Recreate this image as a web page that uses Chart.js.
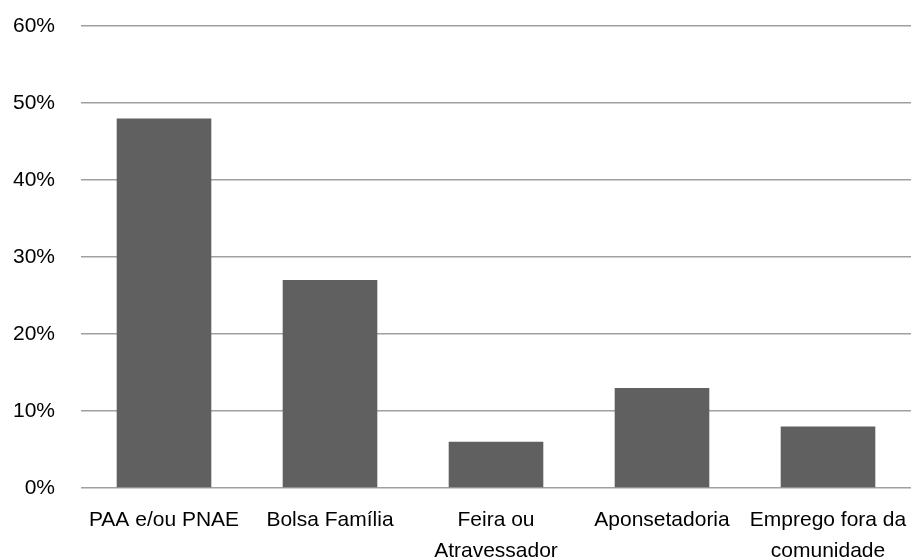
<!DOCTYPE html>
<html>
<head>
<meta charset="utf-8">
<script src="https://cdn.jsdelivr.net/npm/chart.js@4/dist/chart.umd.min.js"></script>
<style>
  html, body { margin: 0; padding: 0; background: #fff; }
  #wrap { width: 913px; height: 557px; }
</style>
</head>
<body>
<div id="wrap"><canvas id="chart"></canvas></div>
<script>
const categories = ['PAA e/ou PNAE', 'Bolsa Família', ['Feira ou', 'Atravessador'], 'Aponsetadoria', ['Emprego fora da', 'comunidade']];
const values = [48, 27, 6, 13, 8];  // percent
const yTicks = [0, 10, 20, 30, 40, 50, 60];

const fontFamily = "'Liberation Sans', Arial, sans-serif";

const ctx = document.getElementById('chart').getContext('2d');
new Chart(ctx, {
    type: 'bar',
    data: {
        labels: categories,
        datasets: [{
            data: values,
            backgroundColor: '#606060',
            barPercentage: 0.57,
            categoryPercentage: 1
        }]
    },
    options: {
        animation: false,
        responsive: true,
        maintainAspectRatio: false,
        layout: { padding: { top: 26, right: 2, left: 0, bottom: 0 } },
        scales: {
            x: {
                grid: { display: false },
                border: { display: false },
                ticks: {
                    color: '#000',
                    padding: 9,
                    maxRotation: 0,
                    font: { family: fontFamily, size: 21, lineHeight: 1.47 }
                },
                afterFit: scale => {
                    scale.height = 69;
                    scale.paddingLeft = 0;   // keep the plot wide, labels fit anyway
                    scale.paddingRight = 0;
                }
            },
            y: {
                min: yTicks[0],
                max: yTicks[yTicks.length - 1],
                border: { display: false },
                grid: { color: '#a0a0a0', lineWidth: 1.5, drawTicks: false },
                ticks: {
                    stepSize: 10,
                    color: '#000',
                    padding: 26,
                    font: { family: fontFamily, size: 21 },
                    callback: v => v + '%'
                },
                afterFit: scale => {
                    scale.width = 81;
                    scale.paddingTop = 0;
                    scale.paddingBottom = 0;
                }
            }
        },
        plugins: {
            legend: { display: false },
            tooltip: { enabled: false }
        }
    }
});
</script>
</body>
</html>
